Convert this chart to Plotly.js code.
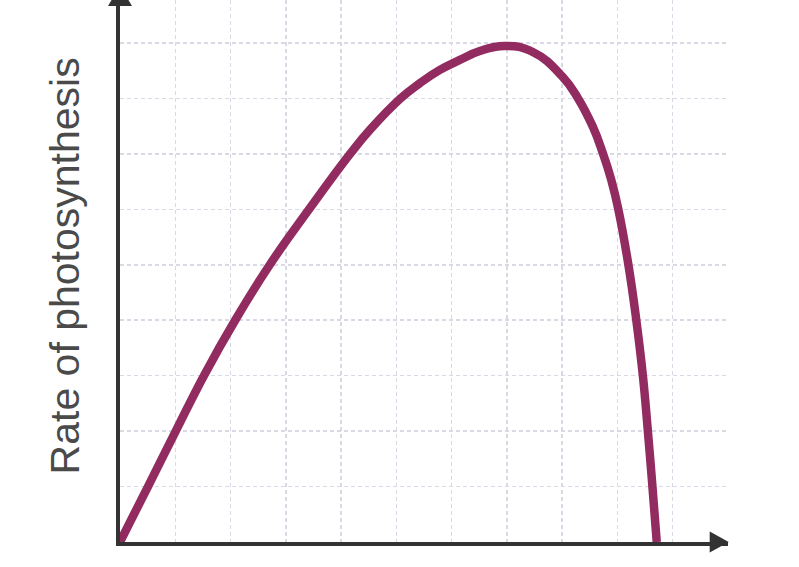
<!DOCTYPE html>
<html>
<head>
<meta charset="utf-8">
<script src="https://cdn.plot.ly/plotly-3.0.1.min.js"></script>
<style>
  html, body { margin: 0; padding: 0; background: #fff; }
  #plot-1 { width: 799px; height: 567px; }
</style>
</head>
<body>
<div id="plot-1"></div>
<script>
// Curve, in grid squares
var temperature = [0, 0.506, 1.013, 1.528, 2.089, 2.722, 3.427, 4.177, 4.521, 5.081, 5.425, 5.787, 6.148, 6.51, 6.962, 7.468, 7.993, 8.282, 8.553, 8.734, 8.888, 9.014, 9.195, 9.34, 9.458, 9.548, 9.63, 9.711];
var rate = [0, 1.0, 2.009, 3.018, 4.009, 5.018, 6.009, 7.018, 7.432, 8.004, 8.274, 8.514, 8.694, 8.856, 8.946, 8.838, 8.405, 8.009, 7.492, 7.018, 6.532, 6.009, 5.018, 4.009, 3.018, 2.027, 1.036, 0];

var gridX = [1, 2, 3, 4, 5, 6, 7, 8, 9, 10];
var gridY = [1, 2, 3, 4, 5, 6, 7, 8, 9];

var axisColor = '#333333';
var gridColor = '#d9d9e6';

var trace = {
  x: temperature,
  y: rate,
  mode: 'lines',
  type: 'scatter',
  line: {color: '#922b60', width: 8.5, shape: 'spline', smoothing: 1.3},
  hoverinfo: 'skip'
};

var layout = {
  width: 799,
  height: 567,
  margin: {l: 120, r: 71, t: 0, b: 24.5},
  paper_bgcolor: '#ffffff',
  plot_bgcolor: '#ffffff',
  showlegend: false,
  xaxis: {
    range: [0, 11],
    tickvals: gridX,
    showticklabels: false,
    ticks: '',
    showgrid: true,
    gridcolor: gridColor,
    gridwidth: 1.5,
    griddash: '4px,3px',
    zeroline: false,
    showline: true,
    linecolor: axisColor,
    linewidth: 4
  },
  yaxis: {
    range: [0, 9.775],
    tickvals: gridY,
    showticklabels: false,
    ticks: '',
    showgrid: true,
    gridcolor: gridColor,
    gridwidth: 1.5,
    griddash: '4px,3px',
    zeroline: false,
    showline: true,
    linecolor: axisColor,
    linewidth: 4
  },
  annotations: [{
    text: 'Rate of photosynthesis',
    xref: 'paper', yref: 'paper',
    x: -0.09, y: 0.509,
    xanchor: 'center', yanchor: 'middle',
    textangle: -90,
    showarrow: false,
    font: {family: 'Liberation Sans, Arial, sans-serif', size: 41, color: '#4a4a4a'}
  }],
  shapes: [
    // arrow heads on the axes
    {type: 'path', xref: 'paper', yref: 'paper',
     path: 'M 0.9699 0.0194 L 1.0012 0 L 0.9699 -0.0194 Z',
     fillcolor: axisColor, line: {width: 0}},
    {type: 'path', xref: 'paper', yref: 'paper',
     path: 'M -0.0197 0.989 L 0 1.026 L 0.0197 0.989 Z',
     fillcolor: axisColor, line: {width: 0}}
  ]
};

Plotly.newPlot('plot-1', [trace], layout, {staticPlot: true, displayModeBar: false});
</script>
</body>
</html>
